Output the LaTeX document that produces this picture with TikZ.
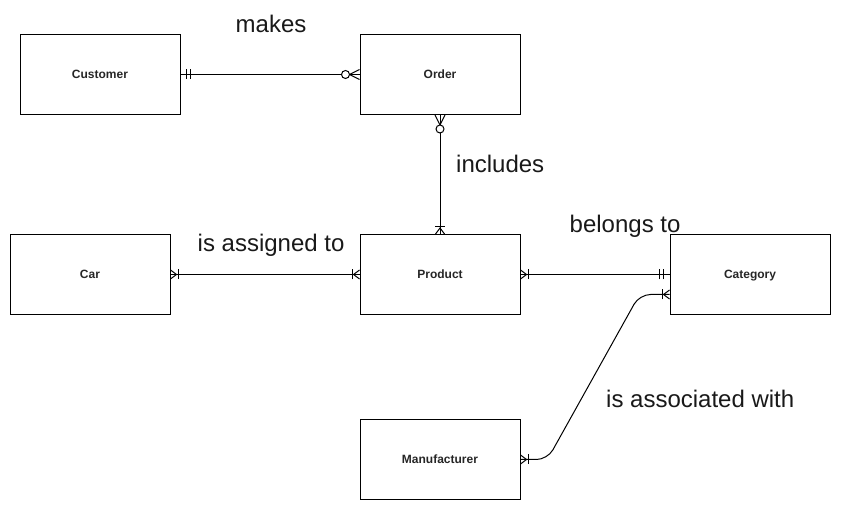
\documentclass[tikz,border=0pt]{standalone}
\usepackage{fontspec}
\setmainfont{Liberation Sans}
\usetikzlibrary{calc}
\tikzset{
  entity/.style={draw, line width=1pt, minimum width=160pt, minimum height=80pt, inner sep=0pt,
    text height=11.5pt, text depth=2.5pt,
    font=\fontsize{12}{14}\selectfont\bfseries, text=black!85},
  rel/.style={inner sep=0pt, anchor=base west, font=\fontsize{24}{28}\selectfont, text=black!90},
  conn/.style={line width=1pt},
  onemany/.pic={\draw[line width=1pt] (0,4.5)--(6,0)--(0,-4.5); \draw[line width=1pt] (7.5,-5)--(7.5,5);},
  mandone/.pic={\draw[line width=1pt] (6,-5)--(6,5) (10,-5)--(10,5);},
  zeromany/.pic={\draw[line width=1pt] (0,5)--(10,0)--(0,-5); \draw[line width=1pt,fill=white] (14,0) circle (4);},
}
\begin{document}
\begin{tikzpicture}[x=1pt,y=-1pt]
\useasboundingbox (0,0) rectangle (841,510);
\node[entity] (cust) at (100,74.5) {Customer};
\node[entity] (ord) at (440,74.5) {Order};
\node[entity] (car) at (90,274.5) {Car};
\node[entity] (prod) at (440,274.5) {Product};
\node[entity] (cat) at (750,274.5) {Category};
\node[entity] (man) at (440,459.5) {Manufacturer};

\coordinate (catin) at ($(cat.west)+(0,20)$);

\draw[conn] (cust.east) -- (ord.west);
\draw[conn] (ord.south) -- (prod.north);
\draw[conn] (car.east) -- (prod.west);
\draw[conn] (prod.east) -- (cat.west);
\draw[conn, rounded corners=11pt] (man.east) -- ++(27,0) -- ($(catin)+(-30,0)$) -- (catin);

% markers
\path (cust.east) pic {mandone};
\path (ord.west) pic[rotate=180] {zeromany};
\path (ord.south) pic[rotate=-90] {zeromany};
\path (prod.north) pic[rotate=90] {onemany};
\path (car.east) pic {onemany};
\path (prod.west) pic[rotate=180] {onemany};
\path (prod.east) pic {onemany};
\path (cat.west) pic[rotate=180] {mandone};
\path (man.east) pic {onemany};
\path (catin) pic[rotate=180] {onemany};

% labels
\node[rel] (lmakes) at (235.5,32.5) {makes};
\node[rel] (lincl) at (456,172.5) {includes};
\node[rel] (lassign) at (197.5,251.5) {is assigned to};
\node[rel] (lbelong) at (569.5,232.5) {belongs to};
\node[rel] (lassoc) at (606,408) {is associated with};
\end{tikzpicture}
\end{document}
